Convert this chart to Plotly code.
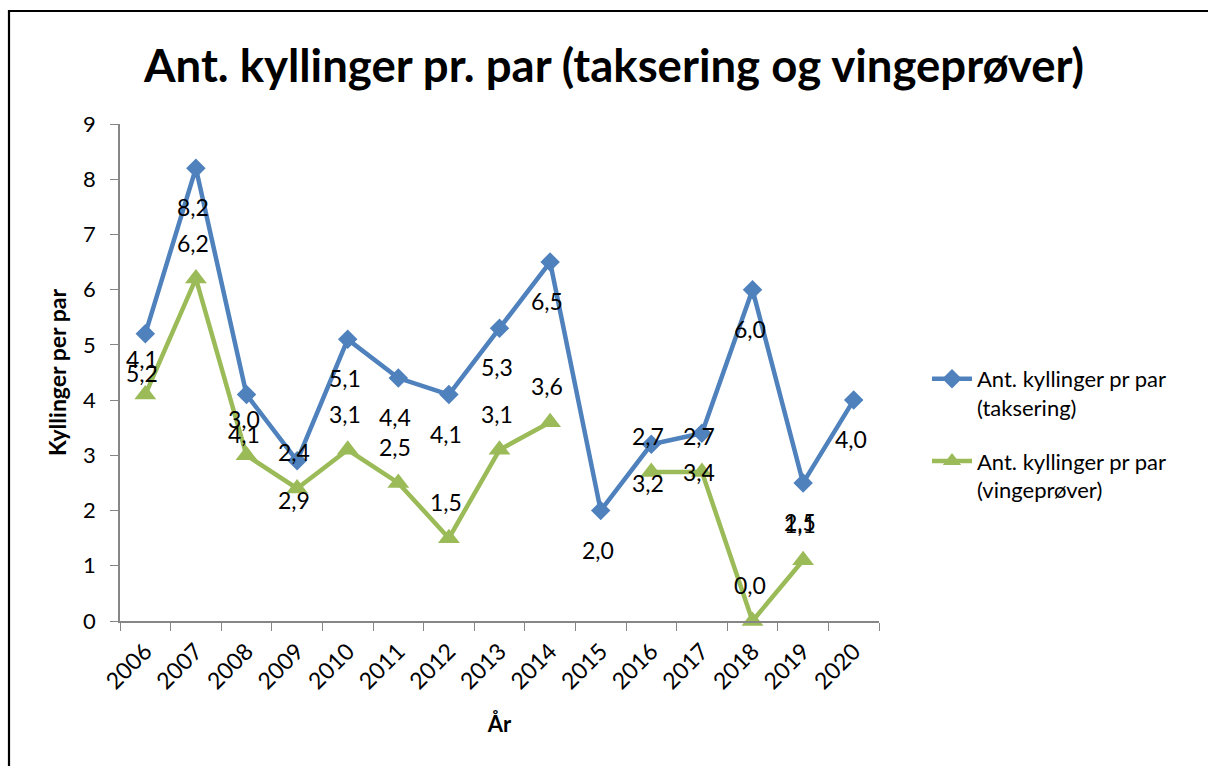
import plotly.graph_objects as go

years = ["2006", "2007", "2008", "2009", "2010", "2011", "2012", "2013",
         "2014", "2015", "2016", "2017", "2018", "2019", "2020"]
taksering = [5.2, 8.2, 4.1, 2.9, 5.1, 4.4, 4.1, 5.3, 6.5, 2.0, 3.2, 3.4, 6.0, 2.5, 4.0]
vingeprover = [4.1, 6.2, 3.0, 2.4, 3.1, 2.5, 1.5, 3.1, 3.6, None, 2.7, 2.7, 0.0, 1.1, None]

BLUE = "#4F81BD"
GREEN = "#9BBB59"
FONT = "Lato, 'Open Sans', sans-serif"

W, H = 1208, 766
ML, MR, MT, MB = 120, W - 879, 124, H - 621

fig = go.Figure()
fig.add_trace(go.Scatter(
    x=years, y=taksering, mode="lines+markers",
    name="Ant. kyllinger pr par<br>(taksering)", legendgroup="a",
    line=dict(color=BLUE, width=4.5),
    marker=dict(symbol="diamond", size=15, color=BLUE),
    cliponaxis=False,
))
fig.add_trace(go.Scatter(
    x=years, y=vingeprover, mode="lines+markers",
    name="Ant. kyllinger pr par<br>(vingeprøver)", legendgroup="b",
    line=dict(color=GREEN, width=4.5),
    marker=dict(symbol="triangle-up", size=19, color=GREEN),
    connectgaps=False, cliponaxis=False,
))


def fmt(v):
    return f"{v:.1f}".replace(".", ",")


annotations = []
for i, v in enumerate(taksering):
    if v is not None:
        annotations.append(dict(x=i, y=v, xref="x", yref="y", text=fmt(v),
                                showarrow=False, yshift=-39, xshift=-3,
                                font=dict(family=FONT, size=23, color="black")))
for i, v in enumerate(vingeprover):
    if v is not None:
        annotations.append(dict(x=i, y=v, xref="x", yref="y", text=fmt(v),
                                showarrow=False, yshift=36, xshift=-3,
                                font=dict(family=FONT, size=23, color="black")))

pw = W - ML - MR
ph = H - MT - MB


def px_x(p):
    return (p - ML) / pw


def px_y(p):
    return (H - MB - p) / ph


fig.update_layout(
    width=W, height=H,
    margin=dict(l=ML, r=MR, t=MT, b=MB),
    paper_bgcolor="white", plot_bgcolor="white",
    font=dict(family=FONT, color="black"),
    title=dict(text="<b>Ant. kyllinger pr. par (taksering og vingeprøver)</b>",
               x=614 / W, xref="container", xanchor="center",
               y=1 - 66 / H, yref="container", yanchor="middle",
               font=dict(family=FONT, size=45.5, color="black")),
    showlegend=True,
    legend=dict(x=px_x(927), xanchor="left", y=px_y(358), yanchor="top",
                font=dict(family=FONT, size=22, color="black"),
                valign="top", tracegroupgap=22, itemwidth=40,
                bgcolor="rgba(0,0,0,0)"),
    annotations=annotations,
    shapes=[dict(type="rect", xref="paper", yref="paper",
                 x0=px_x(9), x1=px_x(W + 30), y0=px_y(H + 30), y1=px_y(11),
                 line=dict(color="black", width=2.2), fillcolor="rgba(0,0,0,0)",
                 layer="below")],
)

fig.update_xaxes(
    type="category", range=[-0.5, 14.5], tickson="boundaries",
    ticks="outside", ticklen=8, tickcolor="#868686",
    showline=True, linecolor="#868686", linewidth=1.5,
    showgrid=False, zeroline=False, tickangle=-45,
    ticklabelstandoff=6,
    tickfont=dict(family=FONT, size=23, color="black"),
    title=dict(text="<b>År</b>", font=dict(family=FONT, size=22, color="black"),
               standoff=23),
)
fig.update_yaxes(
    range=[0, 9], dtick=1, tick0=0,
    ticks="outside", ticklen=8, tickcolor="#868686",
    showline=True, linecolor="#868686", linewidth=1.5,
    showgrid=False, zeroline=False,
    ticklabelstandoff=10,
    tickfont=dict(family=FONT, size=22, color="black"),
    title=dict(text="<b>Kyllinger per par</b>",
               font=dict(family=FONT, size=23, color="black"), standoff=10),
)

fig.write_html(
    "out.html",
    config={"displayModeBar": False},
    post_script="document.body.style.margin='0';document.body.style.overflow='hidden';",
)
